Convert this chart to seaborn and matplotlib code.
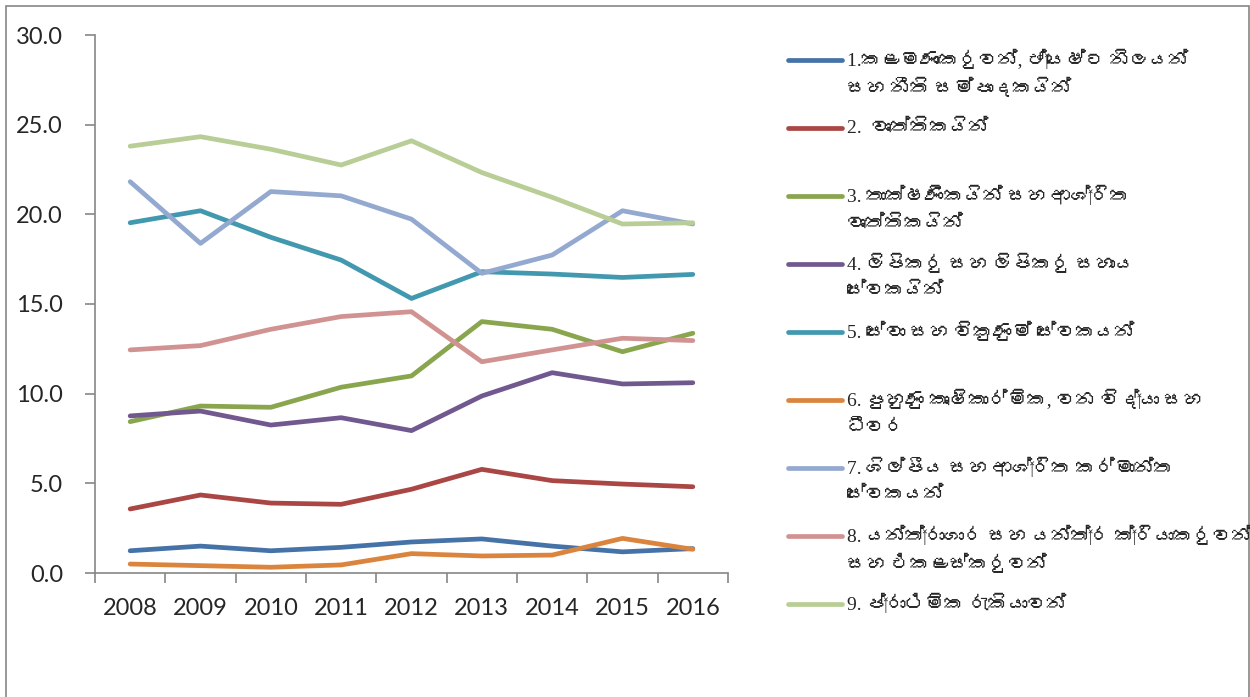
import numpy as np
import pandas as pd
import matplotlib
matplotlib.use("Agg")
import matplotlib.pyplot as plt
from matplotlib import font_manager
from matplotlib.ft2font import FT2Font
from matplotlib.lines import Line2D
from matplotlib.patches import Rectangle
import seaborn as sns

# ── Data ──────────────────────────────────────────────────────────────────────
years = ["2008", "2009", "2010", "2011", "2012", "2013", "2014", "2015", "2016"]

managers = [1.24, 1.50, 1.24, 1.43, 1.73, 1.90, 1.50, 1.18, 1.36]
professionals = [3.57, 4.35, 3.90, 3.83, 4.67, 5.78, 5.15, 4.96, 4.81]
technicians = [8.44, 9.31, 9.24, 10.36, 10.99, 14.02, 13.59, 12.34, 13.37]
clerks = [8.76, 9.03, 8.25, 8.66, 7.94, 9.87, 11.17, 10.54, 10.61]
service_sales = [19.53, 20.20, 18.72, 17.45, 15.31, 16.80, 16.67, 16.48, 16.65]
agriculture = [0.50, 0.41, 0.32, 0.45, 1.08, 0.95, 1.00, 1.93, 1.32]
craft = [21.82, 18.38, 21.27, 21.03, 19.73, 16.71, 17.73, 20.20, 19.46]
operators = [12.44, 12.68, 13.59, 14.30, 14.57, 11.78, 12.44, 13.09, 12.96]
elementary = [23.80, 24.33, 23.63, 22.75, 24.10, 22.33, 20.95, 19.46, 19.53]

series_values = [managers, professionals, technicians, clerks, service_sales,
                 agriculture, craft, operators, elementary]

# each legend entry: first line, second line ("" if none)
legend_labels = [
    ("1.කළමණාකරුවන්, ජ්‍යෙෂ්ට නිලයන්", "සහ නීති සම්පාදකයින්"),
    ("2.  වෘත්තිකයින්", ""),
    ("3. තාක්ෂණිකයින් සහ ආශ්‍රිත", "වෘත්තිකයින්"),
    ("4. ලිපිකරු සහ ලිපිකරු සහාය", "සේවකයින්"),
    ("5. සේවා සහ විකුණුම් සේවකයන්", ""),
    ("6. පුහුණු කෘෂිකාර්මික, වන විද්‍යා සහ", "ධීවර"),
    ("7. ශිල්පීය සහ ආශ්‍රිත කර්මාන්ත", "සේවකයන්"),
    ("8. යන්ත්‍රාගාර සහ යන්ත්‍ර ක්‍රියාකරුවන්", "සහ එකළස්කරුවන්"),
    ("9. ප්‍රාථමික රැකියාවන්", ""),
]

colors = ["#4572A7", "#AA4643", "#89A54E", "#71588F", "#4198AF",
          "#DB843D", "#93A9CF", "#D19392", "#B9CD96"]

# ── Fonts ─────────────────────────────────────────────────────────────────────
sns.set_theme(style="white")


def find_sinhala_font():
    # look for any installed font that actually has Sinhala glyphs
    for f in font_manager.fontManager.ttflist:
        try:
            if 0x0D9A in FT2Font(f.fname).get_charmap():
                return f.name
        except Exception:
            continue
    return None


sinhala = find_sinhala_font()
legend_family = ["Liberation Serif"] + ([sinhala] if sinhala else []) + ["DejaVu Serif"]
plt.rcParams["font.family"] = ["Lato", "DejaVu Sans"]

# ── Long-form table for seaborn ───────────────────────────────────────────────
rows = []
for i, vals in enumerate(series_values):
    for j, v in enumerate(vals):
        rows.append({"x": j, "value": v, "series": str(i)})
df = pd.DataFrame(rows)

# ── Plot ──────────────────────────────────────────────────────────────────────
W, H = 1250, 697
fig = plt.figure(figsize=(12.5, 6.97), dpi=100)
ax = fig.add_axes([95 / W, 1 - 573 / H, (728 - 95) / W, (573 - 35) / H])

sns.lineplot(
    data=df, x="x", y="value", hue="series", palette=colors,
    linewidth=3.4, ax=ax, legend=False, sort=False,
    solid_capstyle="round", solid_joinstyle="round",
)

ax.set_xlim(-0.5, len(years) - 0.5)
ax.set_ylim(0, 30)
ax.set_xlabel("")
ax.set_ylabel("")

ax.set_yticks(np.arange(0, 31, 5))
ax.set_yticklabels([f"{v:.1f}" for v in np.arange(0, 31, 5)], fontsize=17)
ax.set_xticks(np.arange(-0.5, len(years), 1.0))
ax.set_xticklabels([])
ax.set_xticks(np.arange(len(years)), minor=True)
ax.set_xticklabels(years, minor=True, fontsize=17)

ax.tick_params(axis="y", which="major", length=7, width=1.2, color="#868686",
               direction="out", pad=16, left=True)
ax.tick_params(axis="x", which="major", length=7, width=1.2, color="#868686",
               direction="out", bottom=True)
ax.tick_params(axis="x", which="minor", length=0, pad=18)

for side in ["top", "right"]:
    ax.spines[side].set_visible(False)
for side in ["left", "bottom"]:
    ax.spines[side].set_color("#868686")
    ax.spines[side].set_linewidth(1.2)
ax.grid(False)

# ── Manual legend on the right ────────────────────────────────────────────────
y0, step, line_gap = 60, 68, 28
legend_size = 14
for i, (first, second) in enumerate(legend_labels):
    yy = y0 + i * step
    fig.add_artist(Line2D([788 / W, 842 / W], [1 - yy / H, 1 - yy / H],
                          color=colors[i], linewidth=3.4, solid_capstyle="round"))
    fig.text(847 / W, 1 - yy / H, first, fontsize=legend_size, va="center",
             ha="left", family=legend_family)
    if second:
        fig.text(847 / W, 1 - (yy + line_gap) / H, second, fontsize=legend_size,
                 va="center", ha="left", family=legend_family)

# outer chart-area border (bottom edge falls outside the image)
fig.add_artist(Rectangle((6 / W, -0.05), (1249 - 6) / W, 1.05 - 6 / H,
                         fill=False, edgecolor="#868686", linewidth=1.2,
                         transform=fig.transFigure))

fig.savefig("out.png", dpi=100)
